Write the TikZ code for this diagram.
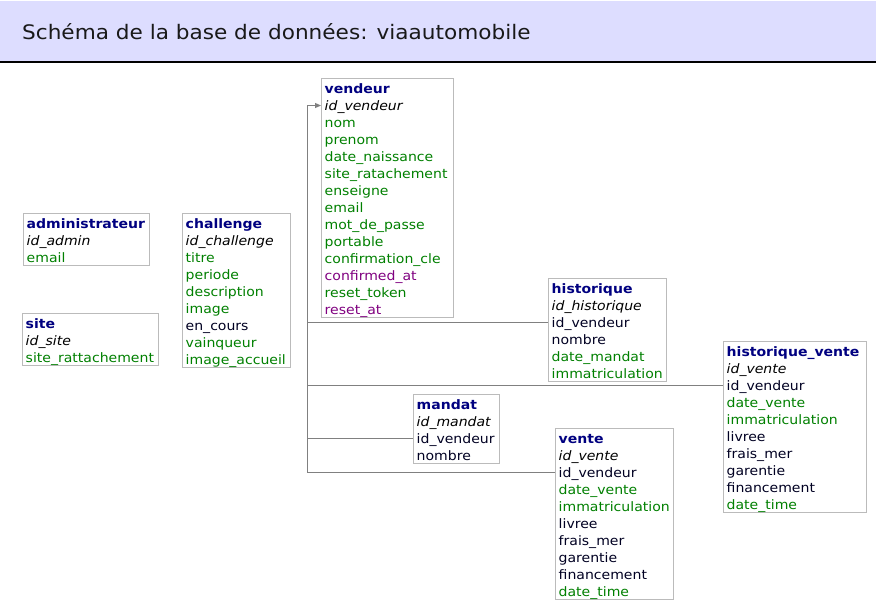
\documentclass[tikz,border=0pt]{standalone}
\usepackage{fontspec}
\setmainfont{DejaVu Sans}[FakeStretch=1.08]
\usetikzlibrary{arrows.meta}
\definecolor{hdrbg}{HTML}{DDDDFF}
\definecolor{tname}{HTML}{000080}
\definecolor{fgreen}{HTML}{008000}
\definecolor{fblack}{HTML}{000022}
\definecolor{fpurple}{HTML}{800080}
\definecolor{boxline}{HTML}{BBBBBB}
\definecolor{connline}{HTML}{808080}
\tikzset{
 tbox/.style={draw=boxline, line width=1pt, anchor=north west, inner sep=0pt},
 row/.style={anchor=west, inner xsep=3.5pt, inner ysep=0pt, text height=12pt, text depth=3pt, font=\fontsize{13}{17}\selectfont},
 t/.style={text=tname, font=\fontsize{13}{17}\selectfont\bfseries},
 k/.style={text=black, font=\fontsize{13}{17}\selectfont\itshape},
 g/.style={text=fgreen},
 b/.style={text=fblack},
 p/.style={text=fpurple},
 conn/.style={draw=connline, line width=1pt},
}
\newcommand\dbtab[6]{%
 \node[tbox, minimum width=#4, minimum height=17*#5+1] (#1) at (#2,#3) {};
 \foreach \st/\txt [count=\i from 0] in {#6} {
   \node[row,\st] (#1-\i) at (#2, #3+10.5+17*\i) {\txt};
 }
}
\begin{document}
\begin{tikzpicture}[x=1pt,y=-1pt]
\useasboundingbox (0,0) rectangle (876,608);
\fill[white] (0,0) rectangle (876,608);
\fill[hdrbg] (0,1) rectangle (876,62);
\draw[line width=1.3pt] (0,62) -- (876,62);
\node[anchor=base west, inner sep=0pt, font=\fontsize{20}{24}\selectfont, text=black!90] (header) at (22,39.5) {Schéma de la base de données: viaautomobile};

\dbtab{vendeur}{321}{78}{132}{14}{t/vendeur, k/id\_vendeur, g/nom, g/prenom, g/date\_naissance, g/site\_ratachement, g/enseigne, g/email, g/mot\_de\_passe, g/portable, g/confirmation\_cle, p/confirmed\_at, g/reset\_token, p/reset\_at}
\dbtab{admin}{23}{213}{126}{3}{t/administrateur, k/id\_admin, g/email}
\dbtab{site}{22}{313}{136}{3}{t/site, k/id\_site, g/site\_rattachement}
\dbtab{challenge}{182}{213}{108}{9}{t/challenge, k/id\_challenge, g/titre, g/periode, g/description, g/image, b/en\_cours, g/vainqueur, g/image\_accueil}
\dbtab{historique}{548}{278}{118}{6}{t/historique, k/id\_historique, b/id\_vendeur, b/nombre, g/date\_mandat, g/immatriculation}
\dbtab{hv}{723}{341}{143}{10}{t/historique\_vente, k/id\_vente, b/id\_vendeur, g/date\_vente, g/immatriculation, b/livree, b/frais\_mer, b/garentie, b/financement, g/date\_time}
\dbtab{mandat}{413}{394}{86}{4}{t/mandat, k/id\_mandat, b/id\_vendeur, b/nombre}
\dbtab{vente}{555}{428}{118}{10}{t/vente, k/id\_vente, b/id\_vendeur, g/date\_vente, g/immatriculation, b/livree, b/frais\_mer, b/garentie, b/financement, g/date\_time}

\coordinate (busx) at (307,0);
\draw[conn] (busx |- vente-2.west) -- (busx |- vendeur-1.west);
\draw[conn, -{Triangle[length=6pt,width=5pt]}] (busx |- vendeur-1.west) -- (vendeur-1.west);
\draw[conn] (busx |- historique-2.west) -- (historique-2.west);
\draw[conn] (busx |- hv-2.west) -- (hv-2.west);
\draw[conn] (busx |- mandat-2.west) -- (mandat-2.west);
\draw[conn] (busx |- vente-2.west) -- (vente-2.west);
\end{tikzpicture}
\end{document}
